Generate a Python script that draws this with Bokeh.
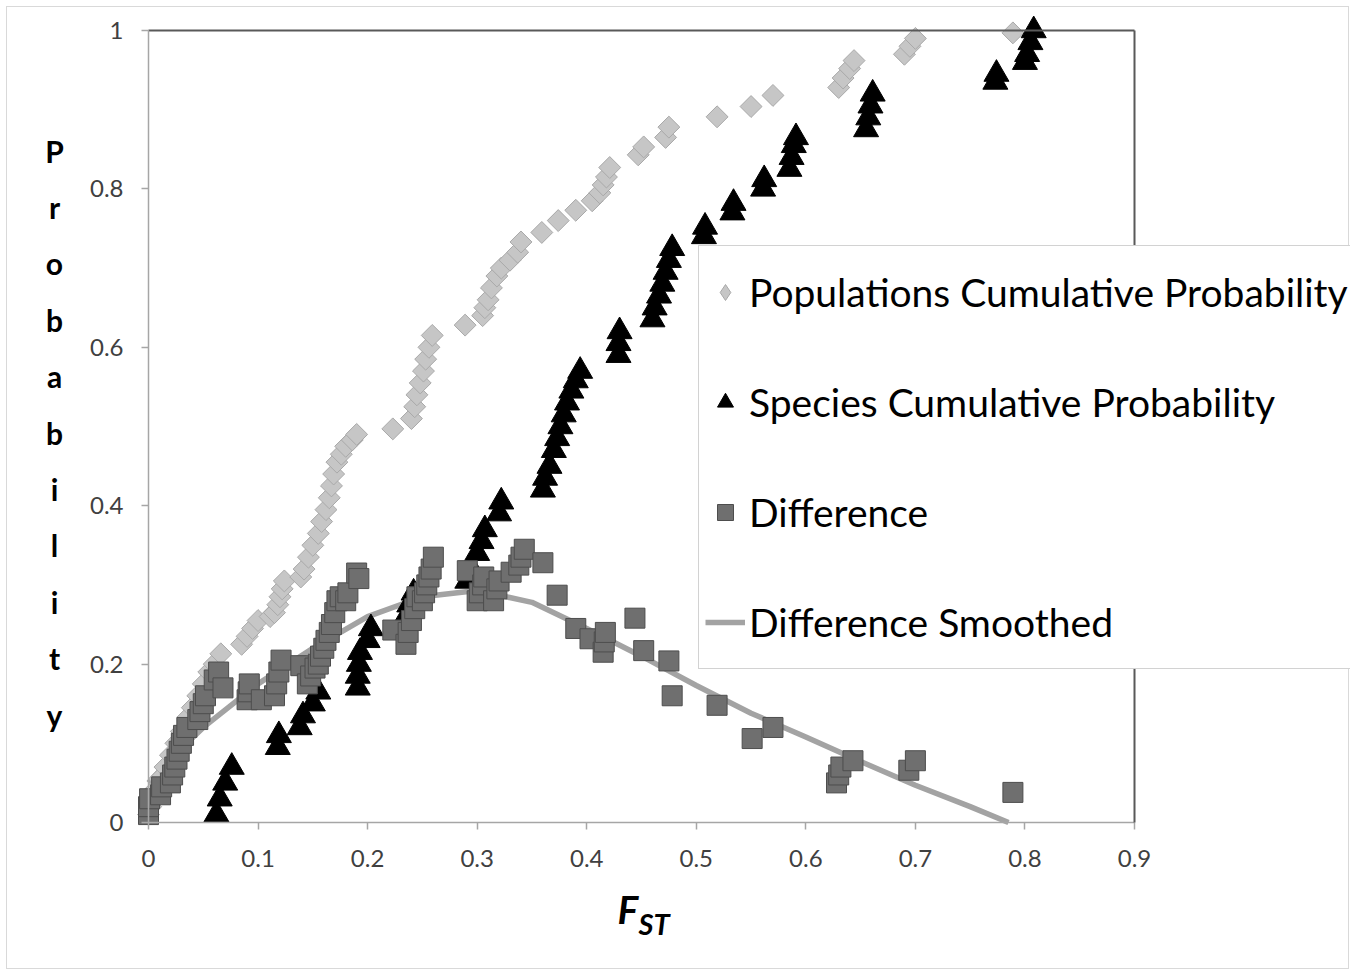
import numpy as np
from bokeh.plotting import figure
from bokeh.models import Range1d, FixedTicker, LinearAxis, Legend, LegendItem, Label
from bokeh.embed import file_html
from bokeh.resources import INLINE

# ---------------- data ----------------
series_names = ["Populations Cumulative Probability", "Species Cumulative Probability",
                "Difference", "Difference Smoothed"]

pop_x = [0.0, 0.002, 0.005, 0.01, 0.015, 0.02, 0.025, 0.03, 0.036, 0.04, 0.045, 0.05, 0.055, 0.06,
         0.066, 0.085, 0.09, 0.095, 0.1, 0.111, 0.115, 0.118, 0.12, 0.122, 0.124, 0.139, 0.142,
         0.146, 0.15, 0.155, 0.158, 0.162, 0.165, 0.167, 0.169, 0.172, 0.176, 0.18, 0.186, 0.19,
         0.223, 0.24, 0.243, 0.245, 0.248, 0.251, 0.253, 0.256, 0.259, 0.289, 0.305, 0.307, 0.31,
         0.313, 0.318, 0.322, 0.33, 0.337, 0.34, 0.359, 0.374, 0.39, 0.405, 0.412, 0.415, 0.418,
         0.421, 0.447, 0.452, 0.472, 0.475, 0.519, 0.55, 0.57, 0.63, 0.634, 0.64, 0.644, 0.69,
         0.695, 0.7, 0.789]
pop_y = [0.01, 0.02, 0.04, 0.055, 0.07, 0.085, 0.1, 0.115, 0.133, 0.145, 0.16, 0.175, 0.19, 0.2,
         0.213, 0.225, 0.235, 0.245, 0.255, 0.26, 0.265, 0.275, 0.285, 0.295, 0.305, 0.31, 0.32,
         0.335, 0.35, 0.365, 0.38, 0.395, 0.41, 0.425, 0.44, 0.455, 0.465, 0.475, 0.483, 0.49,
         0.497, 0.51, 0.525, 0.54, 0.555, 0.57, 0.585, 0.6, 0.615, 0.628, 0.64, 0.65, 0.66,
         0.675, 0.69, 0.7, 0.71, 0.72, 0.733, 0.745, 0.76, 0.773, 0.785, 0.795, 0.805, 0.815,
         0.827, 0.843, 0.853, 0.865, 0.878, 0.891, 0.904, 0.918, 0.928, 0.94, 0.952, 0.962, 0.97,
         0.98, 0.99, 0.997]

spe_x = [0.062, 0.065, 0.07, 0.076, 0.118, 0.119, 0.138, 0.141, 0.15, 0.155, 0.191, 0.191, 0.192,
         0.193, 0.2, 0.203, 0.235, 0.238, 0.242, 0.291, 0.295, 0.3, 0.304, 0.307, 0.32, 0.322,
         0.36, 0.362, 0.366, 0.37, 0.373, 0.376, 0.379, 0.382, 0.386, 0.39, 0.394, 0.429, 0.429,
         0.43, 0.46, 0.462, 0.466, 0.469, 0.472, 0.475, 0.478, 0.507, 0.508, 0.533, 0.534, 0.561,
         0.562, 0.585, 0.587, 0.589, 0.591, 0.655, 0.657, 0.659, 0.661, 0.773, 0.774, 0.8, 0.802,
         0.805, 0.808]
spe_y = [0.01, 0.03, 0.05, 0.07, 0.095, 0.11, 0.12, 0.135, 0.15, 0.165, 0.17, 0.185, 0.2, 0.215,
         0.23, 0.245, 0.26, 0.275, 0.29, 0.305, 0.32, 0.34, 0.355, 0.37, 0.39, 0.405, 0.42, 0.435,
         0.45, 0.47, 0.485, 0.5, 0.515, 0.53, 0.545, 0.558, 0.57, 0.59, 0.605, 0.62, 0.635, 0.65,
         0.665, 0.68, 0.695, 0.71, 0.725, 0.74, 0.752, 0.77, 0.782, 0.8, 0.812, 0.825, 0.84,
         0.855, 0.865, 0.875, 0.89, 0.905, 0.92, 0.935, 0.945, 0.96, 0.97, 0.985, 1.0]

diff_x = [0.0, 0.0, 0.001, 0.011, 0.012, 0.02, 0.022, 0.024, 0.026, 0.028, 0.03, 0.032, 0.035,
          0.045, 0.047, 0.05, 0.052, 0.06, 0.064, 0.068, 0.09, 0.091, 0.092, 0.103, 0.115, 0.117,
          0.119, 0.121, 0.139, 0.145, 0.148, 0.152, 0.155, 0.157, 0.16, 0.162, 0.165, 0.167, 0.17,
          0.172, 0.175, 0.18, 0.182, 0.19, 0.192, 0.223, 0.235, 0.237, 0.24, 0.243, 0.245, 0.25,
          0.252, 0.254, 0.256, 0.258, 0.26, 0.291, 0.3, 0.302, 0.305, 0.306, 0.315, 0.318, 0.32,
          0.331, 0.338, 0.34, 0.343, 0.36, 0.373, 0.39, 0.403, 0.415, 0.416, 0.417, 0.444, 0.452,
          0.475, 0.478, 0.519, 0.551, 0.57, 0.628, 0.63, 0.632, 0.643, 0.694, 0.7, 0.789]
diff_y = [0.01, 0.02, 0.03, 0.035, 0.045, 0.05, 0.06, 0.07, 0.08, 0.09, 0.1, 0.11, 0.12, 0.13,
          0.14, 0.15, 0.16, 0.18, 0.19, 0.17, 0.155, 0.165, 0.175, 0.155, 0.16, 0.175, 0.19, 0.205,
          0.198, 0.175, 0.185, 0.195, 0.2, 0.21, 0.22, 0.23, 0.24, 0.25, 0.265, 0.28, 0.285, 0.28,
          0.29, 0.315, 0.308, 0.243, 0.225, 0.24, 0.255, 0.27, 0.285, 0.28, 0.29, 0.3, 0.31, 0.32,
          0.335, 0.318, 0.28, 0.29, 0.3, 0.31, 0.28, 0.295, 0.305, 0.316, 0.325, 0.335, 0.345,
          0.328, 0.287, 0.245, 0.232, 0.215, 0.228, 0.24, 0.258, 0.217, 0.204, 0.16, 0.148, 0.106,
          0.12, 0.05, 0.06, 0.07, 0.078, 0.066, 0.078, 0.038]

smooth_x = [0, 0.02, 0.05, 0.1, 0.15, 0.2, 0.25, 0.3, 0.35, 0.4, 0.45, 0.5, 0.55, 0.6, 0.65, 0.7,
            0.75, 0.785]
smooth_y = [0.05, 0.08, 0.12, 0.175, 0.22, 0.26, 0.285, 0.293, 0.278, 0.245, 0.21, 0.173, 0.138,
            0.108, 0.077, 0.047, 0.02, 0.0]

x_ticks = [0, 0.1, 0.2, 0.3, 0.4, 0.5, 0.6, 0.7, 0.8, 0.9]
x_tick_labels = ["0", "0.1", "0.2", "0.3", "0.4", "0.5", "0.6", "0.7", "0.8", "0.9"]
y_ticks = [0, 0.2, 0.4, 0.6, 0.8, 1]
y_tick_labels = ["0", "0.2", "0.4", "0.6", "0.8", "1"]

x_title_main = "F"
x_title_sub = "ST"
y_title = "Probability"

# ---------------- layout geometry (pixels) ----------------
FONT = "Lato"
W, H = 1343, 963                # canvas size; the frame fills the whole canvas
CX, CY = 7, 7                    # canvas top-left on the page
AX_X0, AX_X1 = 148, 1134         # page x of data x=0 and x=0.9
AX_Y0, AX_Y1 = 822, 30           # page y of data y=0 and y=1
XMAX, YMAX = x_ticks[-1], y_ticks[-1]

xs = (AX_X1 - AX_X0) / XMAX
x_start = -(AX_X0 - CX) / xs
x_end = x_start + W / xs
ys = (AX_Y0 - AX_Y1) / YMAX
y_end = YMAX + (AX_Y1 - CY) / ys
y_start = y_end - H / ys

p = figure(width=W, height=H, x_range=Range1d(x_start, x_end), y_range=Range1d(y_start, y_end),
           output_backend="svg", toolbar_location=None, min_border=0)
p.title.visible = False
p.styles = {"border": "1px solid #d9d9d9", "margin": "6px 0 0 6px"}
p.grid.visible = False
p.outline_line_color = None
p.background_fill_color = "white"
p.border_fill_color = "white"

xa = p.xaxis[0]
xa.ticker = FixedTicker(ticks=x_ticks)
xa.major_label_overrides = {t: s for t, s in zip(x_ticks, x_tick_labels)}
xa.fixed_location = 0
xa.bounds = (0, XMAX)
ya = p.yaxis[0]
ya.ticker = FixedTicker(ticks=y_ticks)
ya.major_label_overrides = {t: s for t, s in zip(y_ticks, y_tick_labels)}
ya.fixed_location = 0
ya.bounds = (0, YMAX)
for ax in (xa, ya):
    ax.axis_line_color = "#a6a6a6"
    ax.axis_line_width = 1.5
    ax.major_tick_line_color = "#a6a6a6"
    ax.major_tick_line_width = 1.5
    ax.major_tick_out = 7
    ax.major_tick_in = 0
    ax.minor_tick_line_color = None
    ax.major_label_text_font = FONT
    ax.major_label_text_font_size = "24px"
    ax.major_label_text_color = "#404040"
xa.major_label_standoff = 20
ya.major_label_standoff = 18

top_ax = LinearAxis(ticker=FixedTicker(ticks=[]), fixed_location=YMAX, bounds=(0, XMAX),
                    axis_line_color="#595959", axis_line_width=2,
                    major_tick_line_color=None, minor_tick_line_color=None,
                    major_label_text_font_size="0px")
p.add_layout(top_ax, "above")
right_ax = LinearAxis(ticker=FixedTicker(ticks=[]), fixed_location=XMAX, bounds=(0, YMAX),
                      axis_line_color="#595959", axis_line_width=2,
                      major_tick_line_color=None, minor_tick_line_color=None,
                      major_label_text_font_size="0px")
p.add_layout(right_ax, "right")

# ---------------- glyphs ----------------
line_r = p.line(smooth_x, smooth_y, line_color="#a3a3a3", line_width=5.5)
# legend swatch for the diamonds (the legend does not rotate markers); its one point sits
# on the first population point, under the first difference square
pop_key = p.scatter(pop_x[:1], pop_y[:1], marker="diamond", size=22, fill_color="#c6c6c6",
                    line_color="#a9a9a9", line_width=1)
pop_r = p.scatter(pop_x, pop_y, marker="square", angle=np.pi / 4, size=15.5,
                  fill_color="#c6c6c6", line_color="#a9a9a9", line_width=1)
spe_r = p.scatter(spe_x, spe_y, marker="triangle", size=25, fill_color="black",
                  line_color="black")
diff_r = p.scatter(diff_x, diff_y, marker="square", size=20, fill_color="#6f6f6f",
                   line_color="#4d4d4d", line_width=1)

legend = Legend(items=[LegendItem(label=series_names[0], renderers=[pop_key]),
                       LegendItem(label=series_names[1], renderers=[spe_r]),
                       LegendItem(label=series_names[2], renderers=[diff_r]),
                       LegendItem(label=series_names[3], renderers=[line_r])],
                location=(698 - CX, CY + H - 669), padding=6, label_standoff=4, glyph_width=40,
                glyph_height=80, label_height=80, spacing=30,
                label_text_font=FONT, label_text_font_size="39px", label_text_color="black",
                border_line_color="#a6a6a6", border_line_width=1.5,
                background_fill_color="white", background_fill_alpha=1.0)
p.add_layout(legend)

# ---------------- axis titles ----------------
p.add_layout(Label(x=617 - CX, y=CY + H - 885, x_units="screen", y_units="screen",
                   text=x_title_main, text_font=FONT, text_font_size="39px",
                   text_font_style="bold italic", text_color="black",
                   text_baseline="top", text_align="left"))
p.add_layout(Label(x=638 - CX, y=CY + H - 905, x_units="screen", y_units="screen",
                   text=x_title_sub, text_font=FONT, text_font_size="29px",
                   text_font_style="bold italic", text_color="black",
                   text_baseline="top", text_align="left"))
p.add_layout(Label(x=54 - CX, y=CY + H - 132, x_units="screen", y_units="screen",
                   text="\n".join(y_title), text_font=FONT, text_font_size="30px",
                   text_font_style="bold", text_color="black", text_baseline="top",
                   text_align="center", text_line_height=1.567))

open("out.html", "w").write(file_html(p, INLINE))
